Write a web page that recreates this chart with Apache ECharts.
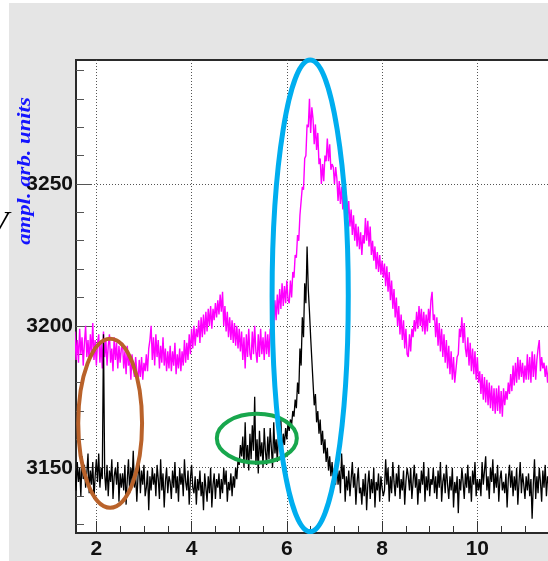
<!DOCTYPE html>
<html>
<head>
<meta charset="utf-8">
<script src="https://cdn.jsdelivr.net/npm/echarts@6/dist/echarts.min.js"></script>
<style>
  html, body { margin: 0; padding: 0; background: #ffffff; }
  #panel { position: absolute; left: 9px; top: 3px; width: 539px; height: 558px; background: #e5e5e5; }
  #chart { position: absolute; left: 0; top: 0; width: 548px; height: 561px; }
</style>
</head>
<body>
<div id="panel"></div>
<div id="chart"></div>
<script>
// Sample positions (time axis) of both traces
const xStart = 1.55;
const xStep = 0.025;

// Upper trace (magenta), one value per sample
const magentaValues = [
  3198,3188,3195,3187,3199,3190,3196,3186,3194,3200,3189,3195,3187,3197,3190,3201,3188,3195,3186,3194,
  3197,3187,3194,3185,3198,3189,3195,3186,3193,3197,3187,3192,3184,3196,3188,3194,3185,3193,3187,3192,
  3194,3185,3191,3183,3193,3186,3189,3181,3190,3185,3182,3189,3184,3179,3188,3182,3189,3181,3187,3184,
  3190,3184,3192,3195,3200,3188,3196,3186,3197,3189,3195,3185,3193,3187,3196,3186,3192,3184,3191,3185,
  3193,3184,3191,3186,3194,3183,3190,3185,3192,3184,3191,3186,3195,3187,3194,3188,3197,3190,3199,3192,
  3200,3193,3199,3196,3202,3194,3203,3196,3204,3197,3205,3198,3206,3200,3207,3199,3206,3202,3208,3203,
  3209,3204,3211,3205,3212,3200,3207,3198,3205,3196,3203,3195,3202,3194,3201,3193,3200,3192,3199,3191,
  3198,3188,3196,3185,3197,3189,3199,3190,3188,3198,3190,3200,3191,3187,3197,3189,3199,3190,3196,3188,
  3198,3190,3197,3189,3199,3197,3206,3199,3209,3202,3211,3204,3213,3206,3215,3207,3214,3208,3216,3209,
  3208,3216,3210,3219,3217,3225,3224,3232,3230,3239,3239,3249,3248,3259,3260,3271,3270,3280,3268,3277,
  3273,3264,3271,3262,3268,3257,3259,3250,3257,3251,3260,3258,3266,3258,3264,3255,3257,3256,3250,3256,
  3252,3244,3251,3243,3249,3241,3248,3239,3246,3238,3244,3235,3241,3232,3239,3230,3236,3228,3235,3227,
  3233,3225,3232,3229,3238,3230,3237,3228,3235,3225,3230,3223,3228,3220,3226,3219,3225,3218,3223,3217,
  3222,3214,3221,3212,3219,3209,3216,3206,3213,3203,3210,3200,3207,3197,3204,3195,3202,3192,3199,3190,
  3189,3197,3191,3199,3196,3202,3198,3205,3199,3207,3200,3206,3198,3205,3197,3204,3198,3206,3201,3209,
  3212,3202,3204,3196,3203,3193,3201,3191,3199,3189,3197,3187,3195,3185,3193,3183,3191,3181,3189,3180,
  3180,3189,3190,3199,3196,3203,3194,3201,3192,3189,3196,3186,3194,3184,3192,3183,3191,3181,3189,3180,
  3184,3176,3183,3174,3182,3173,3181,3172,3180,3171,3179,3170,3178,3169,3178,3170,3179,3169,3177,3168,
  3178,3172,3177,3174,3180,3176,3183,3177,3186,3179,3187,3180,3189,3181,3188,3182,3187,3180,3186,3181,
  3190,3181,3189,3180,3191,3182,3190,3181,3188,3192,3195,3184,3189,3185,3187,3182,3186,3180,3185,3181,
  3189,3180,3190,3181,3187,3191,3182,3189,3180,3188,3181,3190,3182,3188,3180,3187,3190,3181,3188,3182
];

// Lower trace (black), one value per sample
const blackValues = [
  3149,3142,3152,3145,3150,3140,3154,3146,3151,3143,3148,3155,3141,3149,3144,3152,3139,3147,3153,3145,
  3155,3143,3150,3146,3197,3148,3142,3151,3140,3149,3145,3153,3139,3147,3150,3144,3152,3138,3148,3143,
  3148,3142,3151,3137,3146,3153,3141,3150,3145,3156,3143,3148,3138,3147,3152,3141,3149,3144,3151,3140,
  3143,3149,3135,3147,3142,3150,3144,3148,3140,3151,3146,3139,3153,3142,3148,3136,3145,3150,3141,3147,
  3145,3139,3149,3143,3152,3141,3147,3138,3150,3144,3148,3140,3153,3145,3142,3149,3137,3146,3151,3143,
  3141,3147,3137,3146,3142,3149,3140,3145,3135,3148,3143,3138,3147,3141,3150,3136,3144,3148,3139,3146,
  3143,3148,3139,3146,3141,3150,3144,3149,3138,3145,3142,3148,3140,3147,3143,3150,3146,3153,3151,3158,
  3154,3161,3150,3166,3152,3158,3149,3162,3153,3165,3156,3175,3151,3160,3148,3163,3154,3159,3150,3164,
  3156,3151,3161,3153,3164,3157,3150,3166,3155,3160,3152,3163,3157,3167,3154,3162,3158,3164,3160,3166,
  3163,3167,3165,3170,3168,3174,3171,3180,3176,3192,3186,3203,3196,3215,3208,3228,3213,3205,3196,3188,
  3180,3172,3176,3166,3170,3162,3167,3158,3163,3155,3160,3152,3157,3149,3154,3147,3152,3145,3150,3144,
  3152,3144,3149,3141,3155,3146,3151,3138,3147,3142,3149,3140,3146,3152,3143,3148,3137,3145,3150,3141,
  3143,3137,3146,3140,3148,3135,3144,3149,3139,3146,3141,3150,3136,3145,3142,3148,3138,3147,3143,3140,
  3142,3153,3144,3150,3138,3147,3141,3152,3145,3140,3148,3143,3151,3139,3146,3142,3149,3137,3145,3150,
  3147,3142,3150,3139,3145,3151,3143,3148,3137,3146,3141,3149,3144,3152,3138,3147,3142,3150,3140,3146,
  3144,3150,3141,3147,3139,3149,3143,3152,3138,3145,3148,3141,3151,3144,3139,3147,3142,3150,3136,3145,
  3141,3147,3134,3146,3142,3150,3145,3139,3148,3143,3151,3141,3147,3138,3149,3144,3152,3140,3146,3142,
  3146,3140,3152,3144,3149,3154,3142,3147,3139,3150,3145,3153,3141,3148,3143,3151,3138,3146,3149,3142,
  3145,3141,3148,3136,3146,3151,3143,3149,3140,3147,3142,3150,3137,3145,3152,3141,3148,3144,3139,3147,
  3142,3148,3140,3146,3132,3144,3153,3139,3147,3141,3150,3145,3138,3149,3143,3151,3140,3147,3144,3150,
  3148,3141,3152,3145,3139,3149,3143,3155,3146,3142,3150,3144,3148,3140,3153,3145,3141,3149,3144,3147
];

// Axis ticks and labels
const xMajorTicks = [2, 4, 6, 8, 10, 12];
const xLabels = [2, 4, 6, 8, 10];
const xMinorTicks = [2.5, 3, 3.5, 4.5, 5, 5.5, 6.5, 7, 7.5, 8.5, 9, 9.5, 10.5, 11, 11.5];
const yMajorTicks = [3150, 3200, 3250];
const yMinorTicks = [3130, 3140, 3160, 3170, 3180, 3190, 3210, 3220, 3230, 3240, 3260, 3270, 3280, 3290];

// Highlighted regions (data space): centre and half-widths
const regions = [
  { cx: 2.29, cy: 3165.7, rx: 0.67, ry: 29.8, color: '#b9622a', width: 4 },
  { cx: 5.37, cy: 3160.4, rx: 0.84, ry: 8.6, color: '#18a74d', width: 4 },
  { cx: 6.49, cy: 3210.6, rx: 0.80, ry: 83.1, color: '#00aeef', width: 5 }
];

const X_MIN = 1.573, X_MAX = 12;
const Y_MIN = 3127, Y_MAX = 3293.7;

function toPairs(values) {
  return values.map((v, i) => [+(xStart + i * xStep).toFixed(3), v]);
}

const labelFont = { fontSize: 21, fontWeight: 'bold', fontFamily: '"Liberation Sans", Arial, sans-serif', color: '#111', formatter: (v) => String(v) };
const gridLine = { show: true, lineStyle: { type: [1, 2], color: '#555', width: 1 } };

const chart = echarts.init(document.getElementById('chart'), null, { renderer: 'canvas' });

chart.setOption({
  animation: false,
  backgroundColor: 'transparent',
  grid: {
    left: 76, top: 60, width: 496.6, height: 473, containLabel: false, outerBoundsMode: 'none',
    show: true, backgroundColor: '#ffffff', borderColor: '#2a2a2a', borderWidth: 2
  },
  xAxis: [
    {
      type: 'value', min: X_MIN, max: X_MAX, position: 'bottom',
      axisLine: { show: true, onZero: false, lineStyle: { color: '#2a2a2a', width: 2 } },
      axisTick: { show: true, inside: true, length: 12, customValues: xMajorTicks, lineStyle: { color: '#333', width: 1 } },
      axisLabel: Object.assign({ customValues: xLabels, margin: 6 }, labelFont),
      splitLine: gridLine
    },
    {
      type: 'value', min: X_MIN, max: X_MAX, position: 'bottom',
      axisLine: { show: false },
      axisTick: { show: true, inside: true, length: 7, customValues: xMinorTicks, lineStyle: { color: '#333', width: 1 } },
      axisLabel: { show: false },
      splitLine: { show: false }
    }
  ],
  yAxis: [
    {
      type: 'value', min: Y_MIN, max: Y_MAX, position: 'left',
      axisLine: { show: true, onZero: false, lineStyle: { color: '#2a2a2a', width: 2 } },
      axisTick: { show: true, inside: true, length: 15, customValues: yMajorTicks, lineStyle: { color: '#555', width: 1 } },
      axisLabel: Object.assign({ customValues: yMajorTicks, margin: 3 }, labelFont),
      splitLine: gridLine
    },
    {
      type: 'value', min: Y_MIN, max: Y_MAX, position: 'left',
      axisLine: { show: false },
      axisTick: { show: true, inside: true, length: 8, customValues: yMinorTicks, lineStyle: { color: '#555', width: 1 } },
      axisLabel: { show: false },
      splitLine: { show: false }
    }
  ],
  series: [
    {
      name: 'magenta', type: 'line', xAxisIndex: 0, yAxisIndex: 0,
      data: toPairs(magentaValues), showSymbol: false, symbol: 'none',
      lineStyle: { color: '#ff00ff', width: 1.4 }, z: 2
    },
    {
      name: 'black', type: 'line', xAxisIndex: 0, yAxisIndex: 0,
      data: toPairs(blackValues), showSymbol: false, symbol: 'none',
      lineStyle: { color: '#000000', width: 1.3 }, z: 3
    }
  ]
});

// Annotation ellipses and axis titles, placed from data coordinates
const graphics = regions.map((r) => {
  const c = chart.convertToPixel({ xAxisIndex: 0, yAxisIndex: 0 }, [r.cx, r.cy]);
  const e = chart.convertToPixel({ xAxisIndex: 0, yAxisIndex: 0 }, [r.cx + r.rx, r.cy + r.ry]);
  return {
    type: 'ellipse', z: 100,
    shape: { cx: c[0], cy: c[1], rx: Math.abs(e[0] - c[0]), ry: Math.abs(c[1] - e[1]) },
    style: { fill: 'none', stroke: r.color, lineWidth: r.width }
  };
});

graphics.push({
  type: 'text', z: 110, x: 25, y: 171, rotation: Math.PI / 2, scaleX: 1.26,
  style: {
    text: 'ampl. arb. units', fill: '#1414ff',
    font: 'italic bold 18px "Liberation Serif", "Times New Roman", serif',
    align: 'center', verticalAlign: 'middle', textAlign: 'center', textVerticalAlign: 'middle'
  }
});
graphics.push({
  type: 'text', z: 110, x: -12.5, y: 242,
  style: {
    text: 'V', fill: '#000000',
    font: 'italic 34px "Liberation Serif", "Times New Roman", serif',
    align: 'left', verticalAlign: 'bottom', textAlign: 'left', textVerticalAlign: 'bottom'
  }
});

chart.setOption({ graphic: graphics });
</script>
</body>
</html>
